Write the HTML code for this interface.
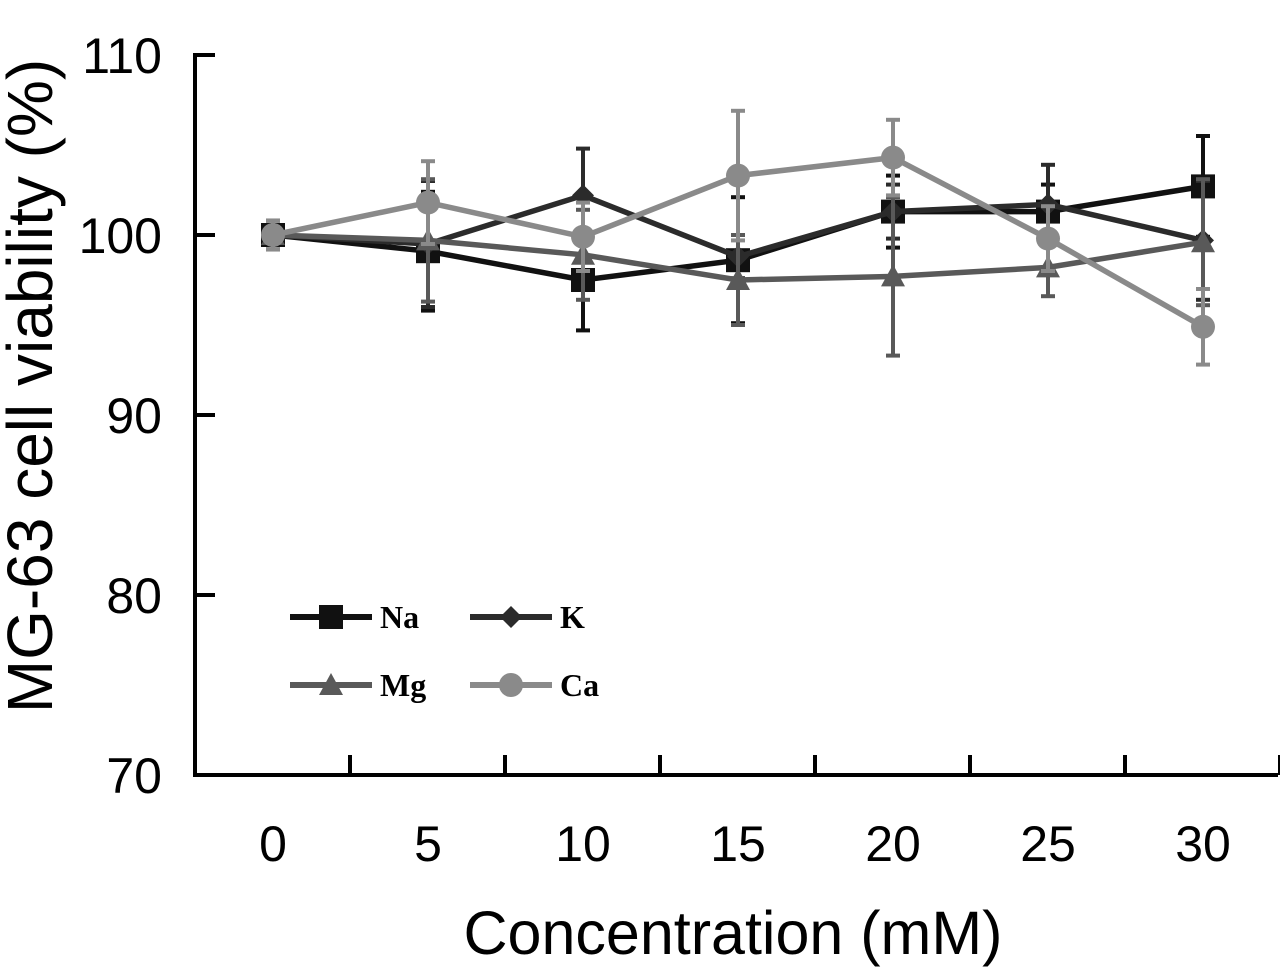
<!DOCTYPE html>
<html><head><meta charset="utf-8"><style>
body{margin:0;background:#fff;}
svg text{font-family:"Liberation Sans",sans-serif;}
</style></head><body>
<svg id="chart" width="1280" height="967" xmlns="http://www.w3.org/2000/svg"></svg>
<script>
const categories=[0,5,10,15,20,25,30];
const yTicks=[70,80,90,100,110];
const seriesNames=["Na","K","Mg","Ca"];
const naValues=[100,99.1,97.5,98.6,101.3,101.3,102.7];
const kValues=[100,99.5,102.2,98.8,101.3,101.7,99.7];
const mgValues=[100,99.7,98.9,97.5,97.7,98.2,99.6];
const caValues=[100,101.8,99.9,103.3,104.3,99.8,94.9];
const naErr=[0.8,3.3,2.8,3.5,2.0,1.5,2.8];
const kErr=[0.8,3.5,2.6,1.2,1.5,2.2,3.3];
const mgErr=[0.8,3.4,2.5,2.5,4.4,1.6,3.5];
const caErr=[0.8,2.3,1.9,3.6,2.1,1.8,2.1];

const svg=document.getElementById('chart');
const NS="http://www.w3.org/2000/svg";
function el(t,a,p){const e=document.createElementNS(NS,t);for(const k in a)e.setAttribute(k,a[k]);(p||svg).appendChild(e);return e;}
const x=i=>273+155*i;
const y=v=>775-(v-70)*18;

let e=el('line',{x1:195,y1:53,x2:195,y2:775,stroke:'#000','stroke-width':4});


e=el('line',{x1:193,y1:775,x2:1278,y2:775,stroke:'#000','stroke-width':4});


yTicks.forEach(v=>{
  el('line',{x1:195,y1:y(v),x2:215,y2:y(v),stroke:'#000','stroke-width':4});
  const t=el('text',{x:162,y:y(v)+18,'font-size':50,'text-anchor':'end'});t.textContent=v;
  
  
});
categories.forEach((c,i)=>{
  const bx=x(i)+77;
  el('line',{x1:bx,y1:755,x2:bx,y2:775,stroke:'#000','stroke-width':4});
  const t=el('text',{x:x(i),y:861,'font-size':50,'text-anchor':'middle'});t.textContent=c;
  
  
});
let t=el('text',{x:733,y:954,'font-size':61,'text-anchor':'middle'});t.textContent='Concentration (mM)';


t=el('text',{x:0,y:0,'font-size':64,'text-anchor':'middle',transform:'translate(52,386) rotate(-90)'});t.textContent='MG-63 cell viability (%)';



const series=[[naValues,naErr,'#111','square'],[kValues,kErr,'#2b2b2b','diamond'],[mgValues,mgErr,'#595959','triangle'],[caValues,caErr,'#8a8a8a','circle']];
function marker(shape,cx,cy,col,g){
  if(shape==='square')return el('rect',{x:cx-12,y:cy-12,width:24,height:24,fill:col},g);
  if(shape==='diamond')return el('polygon',{points:`${cx},${cy-11} ${cx+11},${cy} ${cx},${cy+11} ${cx-11},${cy}`,fill:col},g);
  if(shape==='triangle')return el('polygon',{points:`${cx},${cy-12} ${cx+12},${cy+10} ${cx-12},${cy+10}`,fill:col},g);
  return el('circle',{cx:cx,cy:cy,r:12,fill:col},g);
}
series.forEach((s,si)=>{
  const [vals,errs,col,shape]=s;
  const g=el('g',{});
  
  
  vals.forEach((v,i)=>{
    const cx=x(i),top=y(v+errs[i]),bot=y(v-errs[i]);
    el('line',{x1:cx,y1:top,x2:cx,y2:bot,stroke:col,'stroke-width':4},g);
    el('line',{x1:cx-7,y1:top,x2:cx+7,y2:top,stroke:col,'stroke-width':4},g);
    el('line',{x1:cx-7,y1:bot,x2:cx+7,y2:bot,stroke:col,'stroke-width':4},g);
  });
  el('polyline',{points:vals.map((v,i)=>x(i)+','+y(v)).join(' '),fill:'none',stroke:col,'stroke-width':5.5},g);
  vals.forEach((v,i)=>{
    const m=marker(shape,x(i),y(v),col,g);
    
    
  });
});
const legPos=[[290,617],[470,617],[290,685],[470,685]];
series.forEach((s,si)=>{
  const [lx,ly]=legPos[si];
  const g=el('g',{});
  
  
  el('line',{x1:lx,y1:ly,x2:lx+82,y2:ly,stroke:s[2],'stroke-width':6},g);
  marker(s[3],lx+41,ly,s[2],g);
  const tt=el('text',{x:lx+90,y:ly+11,'font-size':32,'font-weight':'bold'},g);
  tt.setAttribute('style','font-family:"Liberation Serif",serif');
  tt.textContent=seriesNames[si];
});
</script>
</body></html>
